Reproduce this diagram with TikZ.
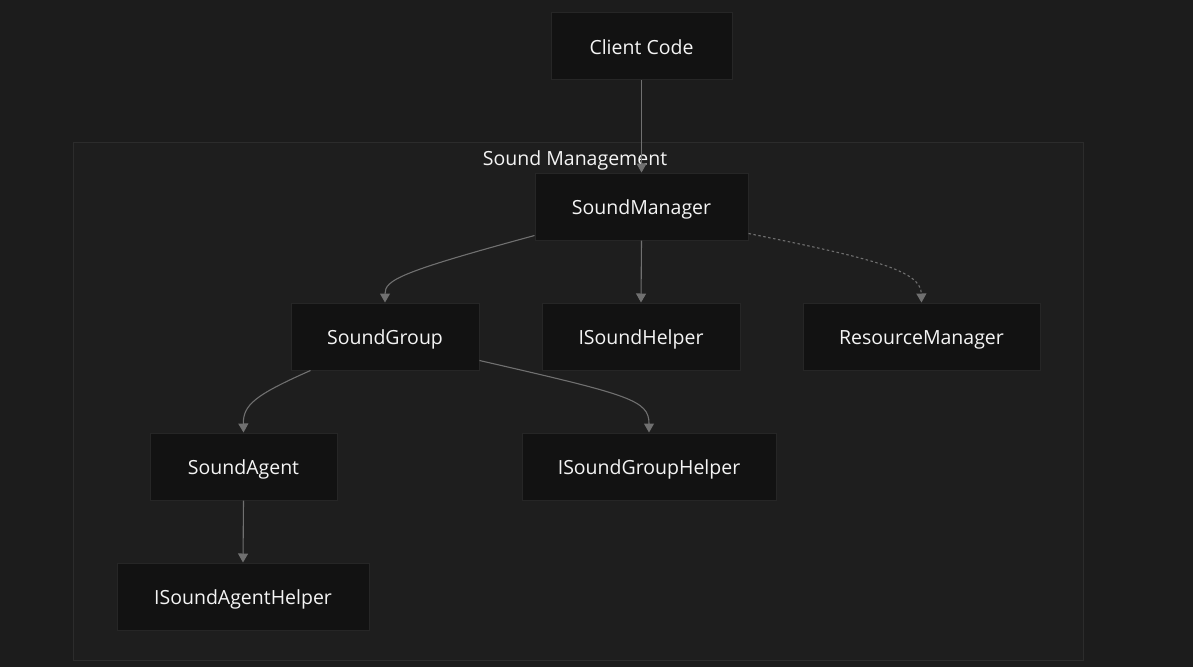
\documentclass[tikz,border=0pt]{standalone}
\usepackage{fontspec}
\setmainfont{Open Sans}
\usetikzlibrary{arrows.meta}
\definecolor{bgc}{HTML}{1C1C1C}
\definecolor{clfill}{HTML}{1E1E1E}
\definecolor{clline}{HTML}{2C2C2C}
\definecolor{nfill}{HTML}{121212}
\definecolor{nline}{HTML}{262626}
\definecolor{edgec}{HTML}{707070}
\definecolor{txt}{HTML}{F4F4F4}
\tikzset{
  box/.style={draw=nline, fill=nfill, line width=1pt, text=txt, inner sep=0pt,
    font=\fontsize{19.5}{23}\selectfont, minimum height=67pt, text height=18pt, text depth=2pt},
  link/.style={draw=edgec, line width=1.1pt, -{Triangle[width=10pt,length=9pt]}},
  dlink/.style={link, dash pattern=on 2.5pt off 2.5pt},
}
\begin{document}
\begin{tikzpicture}[x=1pt,y=-1pt]
\fill[bgc] (0,0) rectangle (1193,667);
\useasboundingbox (0,0) rectangle (1193,667);
\draw[clline, fill=clfill, line width=1pt] (73,142) rectangle (1083,660);
\node[text=txt, font=\fontsize{19.5}{23}\selectfont, inner sep=0pt, text height=16pt, text depth=2pt] (cl) at (575,158) {Sound Management};

\node[box, minimum width=181pt] (cc) at (641.5,46) {Client Code};
\node[box, minimum width=213pt] (sm) at (641.5,206.5) {SoundManager};
\node[box, minimum width=188pt] (sg) at (385,336.5) {SoundGroup};
\node[box, minimum width=198pt] (sh) at (641,336.5) {ISoundHelper};
\node[box, minimum width=237pt] (rm) at (921.5,336.5) {ResourceManager};
\node[box, minimum width=187pt] (sa) at (243.5,466.5) {SoundAgent};
\node[box, minimum width=254pt] (sgh) at (649,466.5) {ISoundGroupHelper};
\node[box, minimum width=252pt] (sah) at (243,596.5) {ISoundAgentHelper};

\draw[link] (cc.south) -- (sm.north);
\draw[link] ([yshift=5pt]sm.south west) .. controls (400,272) and (385,280) .. (sg.north);
\draw[link] (sm.south) -- (sh.north);
\draw[dlink] ([yshift=7pt]sm.south east) .. controls (870,258) and (921,270) .. (rm.north);
\draw[link] ([xshift=20pt]sg.south west) .. controls (255,395) and (243,405) .. (sa.north);
\draw[link] ([yshift=10pt]sg.south east) .. controls (630,395) and (649,400) .. (sgh.north);
\draw[link] (sa.south) -- (sah.north);
\end{tikzpicture}
\end{document}
